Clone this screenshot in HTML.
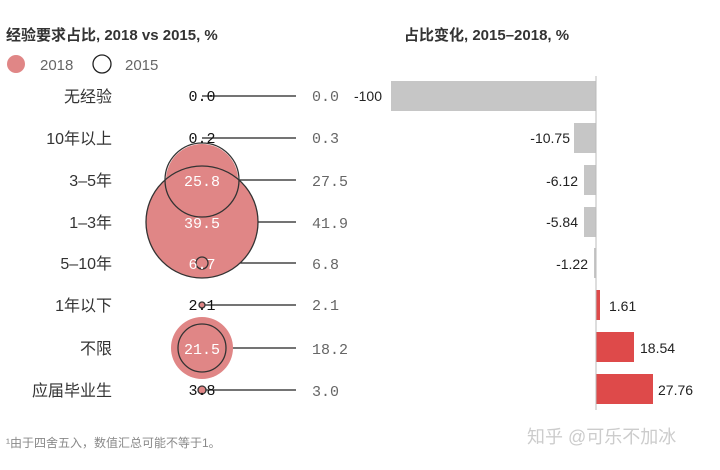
<!DOCTYPE html>
<html><head><meta charset="utf-8"><style>
body{margin:0;background:#fff;}
svg text{font-family:"Liberation Sans","Noto Sans CJK SC",sans-serif;}
svg text.m{font-family:"Liberation Mono","Noto Sans CJK SC",monospace;}
</style></head><body>
<svg width="720" height="465" viewBox="0 0 720 465" xmlns="http://www.w3.org/2000/svg">
<text x="6" y="40" font-size="15" fill="#333" font-weight="bold">经验要求占比, 2018 vs 2015, %</text>
<circle cx="16" cy="64" r="9" fill="#e08686"/>
<text x="40" y="70" font-size="15" fill="#666">2018</text>
<circle cx="102" cy="64" r="9" fill="none" stroke="#222" stroke-width="1.3"/>
<text x="125" y="70" font-size="15" fill="#666">2015</text>
<text x="404" y="40" font-size="15" fill="#333" font-weight="bold">占比变化, 2015–2018, %</text>
<g font-size="16" fill="#333" text-anchor="end">
<text x="112" y="102">无经验</text><text x="112" y="144">10年以上</text><text x="112" y="186">3–5年</text><text x="112" y="228">1–3年</text><text x="112" y="269">5–10年</text><text x="112" y="311">1年以下</text><text x="112" y="354">不限</text><text x="112" y="396">应届毕业生</text>
</g>
<g stroke="#222" stroke-width="1.2">
<line x1="202" y1="96" x2="296" y2="96"/><line x1="202" y1="138" x2="296" y2="138"/><line x1="202" y1="180" x2="296" y2="180"/><line x1="202" y1="222" x2="296" y2="222"/><line x1="202" y1="263" x2="296" y2="263"/><line x1="202" y1="305" x2="296" y2="305"/><line x1="202" y1="348" x2="296" y2="348"/><line x1="202" y1="390" x2="296" y2="390"/>
</g>
<circle cx="202" cy="348" r="31" fill="#e08686"/>
<circle cx="202" cy="222" r="56" fill="#e08686"/>
<circle cx="202" cy="180" r="36" fill="#e08686"/>
<circle cx="202" cy="263" r="6" fill="#e08686"/>
<circle cx="202" cy="305" r="3" fill="#e08686"/>
<circle cx="202" cy="390" r="4" fill="#e08686"/>
<g fill="none" stroke="#333" stroke-width="1.3">
<circle cx="202" cy="180" r="37"/><circle cx="202" cy="222" r="56"/><circle cx="202" cy="263" r="6"/><circle cx="202" cy="305" r="3"/><circle cx="202" cy="348" r="24"/><circle cx="202" cy="390" r="4"/>
</g>
<g font-size="15" text-anchor="middle">
<text class="m" x="202" y="101" fill="#111">0.0</text><text class="m" x="202" y="143" fill="#111">0.2</text>
<text class="m" x="202" y="186" fill="#fff">25.8</text><text class="m" x="202" y="228" fill="#fff">39.5</text>
<text class="m" x="202" y="269" fill="#fff">6.7</text><text class="m" x="202" y="310" fill="#111">2.1</text>
<text class="m" x="202" y="354" fill="#fff">21.5</text><text class="m" x="202" y="395" fill="#111">3.8</text>
</g>
<g font-size="15" fill="#666">
<text class="m" x="312" y="101">0.0</text><text class="m" x="312" y="143">0.3</text><text class="m" x="312" y="186">27.5</text><text class="m" x="312" y="228">41.9</text><text class="m" x="312" y="269">6.8</text><text class="m" x="312" y="310">2.1</text><text class="m" x="312" y="354">18.2</text><text class="m" x="312" y="396">3.0</text>
</g>
<rect x="391" y="81" width="205" height="30" fill="#c6c6c6"/>
<rect x="574" y="123" width="22" height="30" fill="#c6c6c6"/>
<rect x="584" y="165" width="12" height="30" fill="#c6c6c6"/>
<rect x="584" y="207" width="12" height="30" fill="#c6c6c6"/>
<rect x="594" y="248" width="2" height="30" fill="#c6c6c6"/>
<rect x="596" y="290" width="4" height="30" fill="#de4a4a"/>
<rect x="596" y="332" width="38" height="30" fill="#de4a4a"/>
<rect x="596" y="374" width="57" height="30" fill="#de4a4a"/>
<line x1="596" y1="76" x2="596" y2="410" stroke="#bbb" stroke-width="1"/>
<g font-size="14" fill="#222">
<text x="382" y="101" text-anchor="end">-100</text>
<text x="570" y="143" text-anchor="end">-10.75</text>
<text x="578" y="186" text-anchor="end">-6.12</text>
<text x="578" y="227" text-anchor="end">-5.84</text>
<text x="588" y="269" text-anchor="end">-1.22</text>
<text x="609" y="311">1.61</text>
<text x="640" y="353">18.54</text>
<text x="658" y="395">27.76</text>
</g>
<text x="6" y="447" font-size="12" fill="#888">¹由于四舍五入，数值汇总可能不等于1。</text>
<text x="527" y="443" font-size="18" fill="#ccc">知乎 @可乐不加冰</text>
</svg>
</body></html>
